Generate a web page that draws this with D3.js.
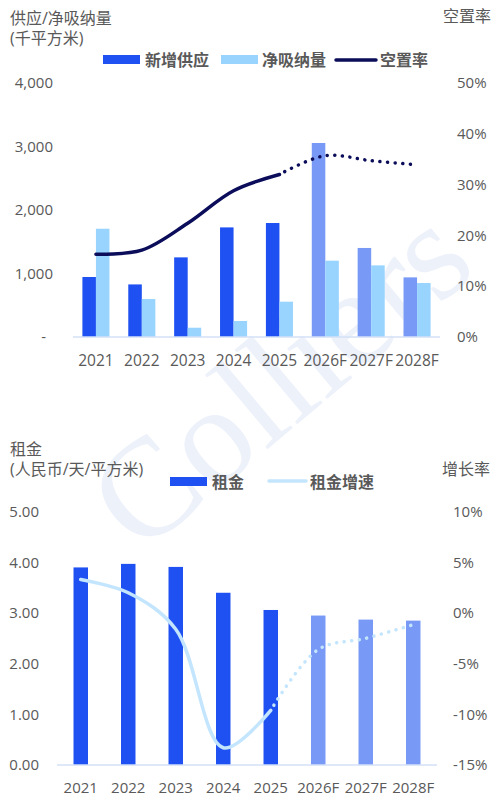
<!DOCTYPE html>
<html>
<head>
<meta charset="utf-8">
<script src="https://cdn.jsdelivr.net/npm/d3@7"></script>
<style>
  body { margin: 0; background: #fff; }
  svg text { font-family: "Open Sans", "Noto Sans CJK SC", sans-serif; fill: #595959; }
</style>
</head>
<body>
<script>
// data
var years = ["2021", "2022", "2023", "2024", "2025", "2026F", "2027F", "2028F"];
var forecast = [false, false, false, false, false, true, true, true];
var supply = [945, 828, 1254, 1726, 1795, 3055, 1402, 939];
var absorption = [1705, 598, 146, 252, 556, 1202, 1128, 850];
var vacancy = [0.163, 0.171, 0.224, 0.288, 0.320, 0.357, 0.347, 0.339];
var rent = [3.90, 3.97, 3.91, 3.40, 3.06, 2.95, 2.87, 2.85];
var rentGrowth = [0.033, 0.020, -0.016, -0.133, -0.096, -0.036, -0.025, -0.0115];

var leftTicks1 = [0, 1000, 2000, 3000, 4000];
var rightTicks1 = [0, 0.1, 0.2, 0.3, 0.4, 0.5];
var leftTicks2 = [0, 1, 2, 3, 4, 5];
var rightTicks2 = [-0.15, -0.10, -0.05, 0, 0.05, 0.10];

var blue = "#1f51f2", blueF = "#7899f6", light = "#99d4ff", navy = "#0b0d5a", lineLight = "#c3e5fd";

var svg = d3.select("body").append("svg")
    .attr("width", 500)
    .attr("height", 797);

// watermark
svg.append("text")
    .attr("transform", "translate(140,556) rotate(-40)")
    .style("font-family", "'Liberation Serif', serif")
    .style("font-size", "140px")
    .style("fill", "#edf1fa")
    .text("Colliers");

// ---------- top chart ----------
var x1 = d3.scaleBand().domain(years).range([73, 440]).paddingInner(0.41).paddingOuter(0.205);
var xs = d3.scaleBand().domain(["s", "a"]).range([0, x1.bandwidth()]);
var yL1 = d3.scaleLinear().domain([0, 4000]).range([337, 83]);
var yR1 = d3.scaleLinear().domain([0, 0.5]).range([337, 83]);

svg.append("text").attr("x", 10).attr("y", 24).style("font-size", "16px").text("供应/净吸纳量");
svg.append("text").attr("x", 10).attr("y", 44).style("font-size", "16px").text("(千平方米)");
svg.append("text").attr("x", 443).attr("y", 22).style("font-size", "16px").text("空置率");

var g1 = svg.append("g");
g1.selectAll("rect.sup").data(years).enter().append("rect")
    .attr("x", function(d) { return x1(d) + xs("s"); })
    .attr("y", function(d, i) { return yL1(supply[i]); })
    .attr("width", xs.bandwidth())
    .attr("height", function(d, i) { return yL1(0) - yL1(supply[i]); })
    .attr("fill", function(d, i) { return forecast[i] ? blueF : blue; });
g1.selectAll("rect.abs").data(years).enter().append("rect")
    .attr("x", function(d) { return x1(d) + xs("a"); })
    .attr("y", function(d, i) { return yL1(absorption[i]); })
    .attr("width", xs.bandwidth())
    .attr("height", function(d, i) { return yL1(0) - yL1(absorption[i]); })
    .attr("fill", light);

g1.append("line").attr("x1", 73).attr("x2", 440).attr("y1", yL1(0)).attr("y2", yL1(0))
    .attr("stroke", "#d5e1f7").attr("stroke-width", 1.5);

g1.selectAll("text.lt").data(leftTicks1).enter().append("text")
    .attr("x", function(d) { return d === 0 ? 46 : 53; })
    .attr("y", function(d) { return yL1(d); })
    .attr("dy", "0.35em").attr("text-anchor", "end").style("font-size", "15px")
    .text(function(d) { return d === 0 ? "-" : d3.format(",")(d); });
g1.selectAll("text.rt").data(rightTicks1).enter().append("text")
    .attr("x", 457)
    .attr("y", function(d) { return yR1(d); })
    .attr("dy", "0.35em").style("font-size", "15px")
    .text(function(d) { return d3.format(".0%")(d); });
g1.selectAll("text.xt").data(years).enter().append("text")
    .attr("x", function(d) { return x1(d) + x1.bandwidth() / 2; })
    .attr("y", 361).attr("dy", "0.35em").attr("text-anchor", "middle").style("font-size", "15.5px")
    .text(function(d) { return d; });

var vline = d3.line()
    .x(function(d) { return x1(d.y) + x1.bandwidth() / 2; })
    .y(function(d) { return yR1(d.v); })
    .curve(d3.curveCatmullRom.alpha(0.5));
var vdata = years.map(function(y, i) { return { y: y, v: vacancy[i] }; });
g1.append("path").datum(vdata.slice(0, 5)).attr("d", vline)
    .attr("fill", "none").attr("stroke", navy).attr("stroke-width", 3.5).attr("stroke-linecap", "round");
g1.append("path").datum(vdata.slice(4)).attr("d", vline)
    .attr("fill", "none").attr("stroke", navy).attr("stroke-width", 3.5)
    .attr("stroke-linecap", "round").attr("stroke-dasharray", "0.1 7.5").attr("stroke-dashoffset", -6);

// legend top
svg.append("rect").attr("x", 103).attr("y", 55).attr("width", 37).attr("height", 9).attr("fill", blue);
svg.append("text").attr("x", 145).attr("y", 60).attr("dy", "0.35em").style("font-size", "16px").style("font-weight", "bold").text("新增供应");
svg.append("rect").attr("x", 221).attr("y", 55).attr("width", 37).attr("height", 9).attr("fill", light);
svg.append("text").attr("x", 262).attr("y", 60).attr("dy", "0.35em").style("font-size", "16px").style("font-weight", "bold").text("净吸纳量");
svg.append("line").attr("x1", 336).attr("x2", 376).attr("y1", 60).attr("y2", 60).attr("stroke", navy).attr("stroke-width", 3.5).attr("stroke-linecap", "round");
svg.append("text").attr("x", 380).attr("y", 60).attr("dy", "0.35em").style("font-size", "16px").style("font-weight", "bold").text("空置率");

// ---------- bottom chart ----------
var x2 = d3.scaleBand().domain(years).range([57, 437]).paddingInner(0.695).paddingOuter(0.3475);
var yL2 = d3.scaleLinear().domain([0, 5]).range([765, 511.7]);
var yR2 = d3.scaleLinear().domain([-0.15, 0.10]).range([765, 511.7]);

svg.append("text").attr("x", 10).attr("y", 455).style("font-size", "16px").text("租金");
svg.append("text").attr("x", 10).attr("y", 475).style("font-size", "16px").text("(人民币/天/平方米)");
svg.append("text").attr("x", 442).attr("y", 475).style("font-size", "16px").text("增长率");

var g2 = svg.append("g");
g2.selectAll("rect").data(years).enter().append("rect")
    .attr("x", function(d) { return x2(d); })
    .attr("y", function(d, i) { return yL2(rent[i]); })
    .attr("width", x2.bandwidth())
    .attr("height", function(d, i) { return yL2(0) - yL2(rent[i]); })
    .attr("fill", function(d, i) { return forecast[i] ? blueF : blue; });

g2.append("line").attr("x1", 57).attr("x2", 437).attr("y1", yL2(0)).attr("y2", yL2(0))
    .attr("stroke", "#d5e1f7").attr("stroke-width", 1.5);

g2.selectAll("text.lt").data(leftTicks2).enter().append("text")
    .attr("x", 39)
    .attr("y", function(d) { return yL2(d); })
    .attr("dy", "0.35em").attr("text-anchor", "end").style("font-size", "15px")
    .text(function(d) { return d3.format(".2f")(d); });
g2.selectAll("text.rt").data(rightTicks2).enter().append("text")
    .attr("x", 453)
    .attr("y", function(d) { return yR2(d); })
    .attr("dy", "0.35em").style("font-size", "15px")
    .text(function(d) { return d3.format(".0%")(d).replace("−", "-"); });
g2.selectAll("text.xt").data(years).enter().append("text")
    .attr("x", function(d) { return x2(d) + x2.bandwidth() / 2; })
    .attr("y", 793).attr("text-anchor", "middle").style("font-size", "15px")
    .text(function(d) { return d; });

var gline = d3.line()
    .x(function(d) { return x2(d.y) + x2.bandwidth() / 2; })
    .y(function(d) { return yR2(d.v); })
    .curve(d3.curveCatmullRom.alpha(0.5));
var gdata = years.map(function(y, i) { return { y: y, v: rentGrowth[i] }; });
g2.append("path").datum(gdata.slice(0, 5)).attr("d", gline)
    .attr("fill", "none").attr("stroke", lineLight).attr("stroke-width", 3.5).attr("stroke-linecap", "round");
g2.append("path").datum(gdata.slice(4)).attr("d", gline)
    .attr("fill", "none").attr("stroke", lineLight).attr("stroke-width", 3.5)
    .attr("stroke-linecap", "round").attr("stroke-dasharray", "0.1 7.5").attr("stroke-dashoffset", -6);

// legend bottom
svg.append("rect").attr("x", 170).attr("y", 477).attr("width", 37).attr("height", 9).attr("fill", blue);
svg.append("text").attr("x", 212).attr("y", 482).attr("dy", "0.35em").style("font-size", "16px").style("font-weight", "bold").text("租金");
svg.append("line").attr("x1", 269).attr("x2", 306).attr("y1", 481).attr("y2", 481).attr("stroke", lineLight).attr("stroke-width", 3.5).attr("stroke-linecap", "round");
svg.append("text").attr("x", 310).attr("y", 482).attr("dy", "0.35em").style("font-size", "16px").style("font-weight", "bold").text("租金增速");
</script>
</body>
</html>
